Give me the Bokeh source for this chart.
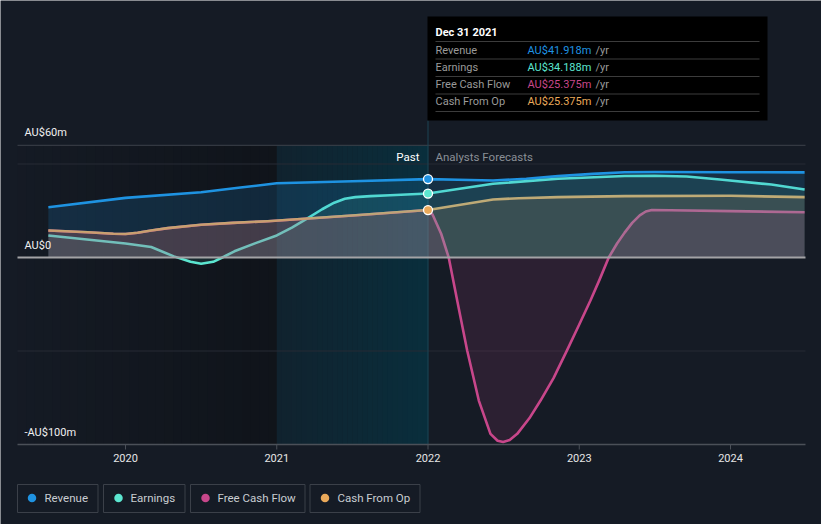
from bokeh.plotting import figure
from bokeh.models import Range1d
from bokeh.core.properties import value
from bokeh.embed import file_html
from bokeh.resources import INLINE

# ---------------- data (AU$ millions, decimal years) ----------------
years = [2020, 2021, 2022, 2023, 2024]
year_labels = ["2020", "2021", "2022", "2023", "2024"]
y_label_values = [60, 0, -100]
y_labels = ["AU$60m", "AU$0", "-AU$100m"]
grid_values = [50, -50]
top_value = 60

rev_t = [2019.49, 2020.0, 2020.5, 2020.76, 2021.0, 2021.5, 2022.0, 2022.2, 2022.43, 2022.65,
         2022.86, 2023.09, 2023.3, 2023.5, 2024.0, 2024.49]
rev_v = [26.9, 31.9, 34.9, 37.4, 39.7, 40.8, 41.918, 41.6, 41.2, 42.1,
         43.5, 44.7, 45.6, 45.7, 45.6, 45.5]

earn_t = [2019.49, 2020.0, 2020.17, 2020.32, 2020.43, 2020.5, 2020.58, 2020.65, 2020.72, 2020.86,
          2021.0, 2021.1, 2021.2, 2021.3, 2021.38, 2021.45, 2021.52, 2021.62, 2021.75, 2022.0,
          2022.43, 2022.86, 2023.3, 2023.5, 2023.71, 2023.93, 2024.27, 2024.49]
earn_v = [11.8, 7.5, 5.6, 0.6, -2.3, -3.3, -2.3, 0.4, 3.3, 7.7,
          11.8, 16.0, 20.8, 25.8, 29.3, 31.4, 32.3, 32.8, 33.3, 34.188,
          39.4, 42.1, 43.6, 43.7, 43.3, 41.7, 39.0, 36.4]

cfo_t = [2019.49, 2019.75, 2019.92, 2020.0, 2020.08, 2020.17, 2020.28, 2020.5, 2020.71, 2020.94,
         2021.5, 2022.0, 2022.43, 2022.6, 2022.86, 2023.3, 2024.0, 2024.49]
cfo_v = [14.4, 13.5, 12.7, 12.6, 13.2, 14.4, 15.7, 17.5, 18.5, 19.4,
         22.5, 25.375, 31.0, 31.7, 32.3, 32.8, 33.0, 32.3]

fcf_t = [2019.49, 2019.75, 2019.92, 2020.0, 2020.08, 2020.17, 2020.28, 2020.5, 2020.71, 2020.94,
         2021.5, 2022.0, 2022.03, 2022.087, 2022.137, 2022.193, 2022.259, 2022.336, 2022.413, 2022.46,
         2022.497, 2022.54, 2022.59, 2022.67, 2022.744, 2022.83, 2022.919, 2023.0, 2023.074, 2023.135,
         2023.195, 2023.25, 2023.30, 2023.35, 2023.40, 2023.44, 2023.48, 2023.6, 2024.0, 2024.49]
fcf_v = [14.4, 13.5, 12.7, 12.6, 13.2, 14.4, 15.7, 17.5, 18.5, 19.4,
         22.5, 25.375, 23.0, 12.7, 0.0, -23.0, -49.7, -76.5, -94.3, -98.0,
         -98.7, -97.6, -94.3, -86.0, -76.5, -64.5, -49.7, -35.8, -23.0, -11.7,
         0.0, 7.5, 13.3, 18.5, 22.5, 24.6, 25.4, 25.3, 24.8, 24.2]

series_names = ["Revenue", "Earnings", "Free Cash Flow", "Cash From Op"]
tooltip_date = "Dec 31 2021"
tooltip_values = ["AU$41.918m", "AU$34.188m", "AU$25.375m", "AU$25.375m"]
past_end = 2022.0
forecast_band_start = 2021.0

# ---------------- styling ----------------
BG = "#151b25"
C_REV = "#1f93e2"
C_EARN = "#5ce6d0"
C_FCF = "#c8478b"
C_CFO = "#eaa95a"
colors = [C_REV, C_EARN, C_FCF, C_CFO]
FONT = value("Roboto")

# pixel anchors of the reference layout
PX_2020 = 125.0
PX_PER_YEAR = 151.25
ZERO_PY = 257.0
PX_PER_M = 1.87
W, H = 821, 524


def PX(px):
    return 2020 + (px - PX_2020) / PX_PER_YEAR


def PY(py):
    return (ZERO_PY - py) / PX_PER_M


def mix(c1, c2, a):
    c1 = [int(c1[i:i + 2], 16) for i in (1, 3, 5)]
    c2 = [int(c2[i:i + 2], 16) for i in (1, 3, 5)]
    return "#%02x%02x%02x" % tuple(int(round(c1[k] * (1 - a) + c2[k] * a)) for k in range(3))


p = figure(width=W, height=H, x_range=Range1d(PX(0), PX(W)), y_range=Range1d(PY(H), PY(0)),
           output_backend="svg", toolbar_location=None, min_border=0,
           x_axis_location=None, y_axis_location=None,
           background_fill_color=BG, border_fill_color=BG, outline_line_color=None)
p.grid.visible = False

frame_l, frame_r = PX(17), PX(805)
frame_t, frame_b = top_value, PY(444)

# ---- past shading bands (gradients approximated by strips) ----
N = 30
x_a = PX(17)
x_b = forecast_band_start
lefts, rights, cols = [], [], []
for i in range(N):
    l = x_a + (x_b - x_a) * i / N
    r = x_a + (x_b - x_a) * (i + 1) / N + 0.002
    lefts.append(l); rights.append(r)
    cols.append(mix(BG, "#0c0f13", 0.05 + 0.55 * i / (N - 1)))
p.quad(left=lefts, right=rights, top=frame_t, bottom=frame_b, fill_color=cols, line_color=None)

lefts, rights, cols = [], [], []
for i in range(N):
    l = forecast_band_start + (past_end - forecast_band_start) * i / N
    r = forecast_band_start + (past_end - forecast_band_start) * (i + 1) / N + 0.002
    lefts.append(l); rights.append(r)
    cols.append(mix(BG, "#08303f", 0.35 + 0.55 * i / (N - 1)))
p.quad(left=lefts, right=rights, top=frame_t, bottom=frame_b, fill_color=cols, line_color=None)

# ---- grid ----
p.segment(x0=[frame_l], x1=[frame_r], y0=[top_value], y1=[top_value], line_color="#3d424a", line_width=1)
p.segment(x0=[frame_l] * len(grid_values), x1=[frame_r] * len(grid_values), y0=grid_values, y1=grid_values,
          line_color="#262b34", line_width=1)

# vertical divider at past end
p.segment(x0=[past_end], x1=[past_end], y0=[PY(120)], y1=[frame_b], line_color="#1c4454", line_width=1)

# ---- lines ----
lw = 2.6
p.line(rev_t, rev_v, line_color=C_REV, line_width=lw, line_join="round")
p.line(earn_t, earn_v, line_color=C_EARN, line_width=lw, line_join="round")
p.line(fcf_t, fcf_v, line_color=C_FCF, line_width=lw, line_join="round")
p.line(cfo_t, cfo_v, line_color=C_CFO, line_width=lw, line_join="round")

# ---- area fills (drawn over lines, translucent) ----
p.varea(x=rev_t, y1=rev_v, y2=[0] * len(rev_t), fill_color=C_REV, fill_alpha=0.17)
p.varea(x=earn_t, y1=earn_v, y2=[0] * len(earn_t), fill_color=C_EARN, fill_alpha=0.10)
p.varea(x=cfo_t, y1=cfo_v, y2=[0] * len(cfo_t), fill_color=C_CFO, fill_alpha=0.14)
p.varea(x=fcf_t, y1=fcf_v, y2=[0] * len(fcf_t), fill_color=C_FCF, fill_alpha=0.13)

# zero line
p.segment(x0=[frame_l], x1=[frame_r], y0=[0], y1=[0], line_color="#a3a3a6", line_width=2)

# x axis
p.segment(x0=[frame_l], x1=[frame_r], y0=[frame_b], y1=[frame_b], line_color="#4b5058", line_width=1.5)
p.segment(x0=years, x1=years, y0=[frame_b] * len(years), y1=[PY(449)] * len(years),
          line_color="#4b5058", line_width=1)
p.text(x=years, y=[PY(457)] * len(years), text=year_labels, text_font=FONT, text_font_size="11px",
       text_color="#e6e6e6", text_align="center", text_baseline="middle")

# y labels
p.text(x=[PX(24)] * len(y_labels), y=[v + 12.5 / PX_PER_M for v in y_label_values], text=y_labels,
       text_font=FONT, text_font_size="11px", text_color="#f0f0f0", text_align="left",
       text_baseline="middle")

# past / forecast
p.text(x=[PX(419)], y=[PY(156)], text=["Past"], text_font=FONT, text_font_size="11.5px",
       text_color="#ffffff", text_align="right", text_baseline="middle")
p.text(x=[PX(435)], y=[PY(156)], text=["Analysts Forecasts"], text_font=FONT, text_font_size="11.5px",
       text_color="#8a8f96", text_align="left", text_baseline="middle")


# markers at past end
def value_at(ts, vs, t):
    return vs[ts.index(t)]


mk_y = [value_at(rev_t, rev_v, past_end), value_at(earn_t, earn_v, past_end), value_at(cfo_t, cfo_v, past_end)]
p.scatter(x=[past_end] * 3, y=mk_y, size=9, fill_color=[C_REV, C_EARN, C_CFO],
          line_color="#ffffff", line_width=1.3)

# ---- tooltip box ----
p.quad(left=[PX(427)], right=[PX(767)], top=[PY(16)], bottom=[PY(120)], fill_color="#000000", line_color=None)
sep_py = [41, 58.5, 76, 93.5, 111]
p.segment(x0=[PX(435)] * len(sep_py), x1=[PX(759)] * len(sep_py), y0=[PY(v) for v in sep_py],
          y1=[PY(v) for v in sep_py], line_color="#3c3c3c", line_width=1)
p.text(x=[PX(435)], y=[PY(31.5)], text=[tooltip_date], text_font=FONT, text_font_size="11px",
       text_color="#ffffff", text_align="left", text_baseline="middle", text_font_style="bold")
row_py = [49.5, 66.5, 84, 101]
p.text(x=[PX(435)] * 4, y=[PY(v) for v in row_py], text=series_names, text_font=FONT,
       text_font_size="11px", text_color="#9a9a9a", text_align="left", text_baseline="middle")
p.text(x=[PX(527)] * 4, y=[PY(v) for v in row_py], text=tooltip_values, text_font=FONT,
       text_font_size="11px", text_color=colors, text_align="left", text_baseline="middle")
p.text(x=[PX(595)] * 4, y=[PY(v) for v in row_py], text=["/yr"] * 4, text_font=FONT,
       text_font_size="11px", text_color="#9a9a9a", text_align="left", text_baseline="middle")

# ---- legend ----
box_l = [17, 103, 190, 309.5]
box_r = [97.5, 184.5, 304.5, 419.5]
dot_px = [31.5, 118, 205, 324.5]
txt_px = [44, 130, 217, 337]
p.quad(left=[PX(v) for v in box_l], right=[PX(v) for v in box_r], top=[PY(484)] * 4, bottom=[PY(512)] * 4,
       fill_color=BG, line_color="#3b4049", line_width=1)
p.scatter(x=[PX(v) for v in dot_px], y=[PY(497.5)] * 4, size=8.5, fill_color=colors, line_color=None)
p.text(x=[PX(v) for v in txt_px], y=[PY(497.5)] * 4, text=series_names, text_font=FONT,
       text_font_size="11.5px", text_color="#c9cdd2", text_align="left", text_baseline="middle")

open("out.html", "w").write(file_html(p, INLINE))
